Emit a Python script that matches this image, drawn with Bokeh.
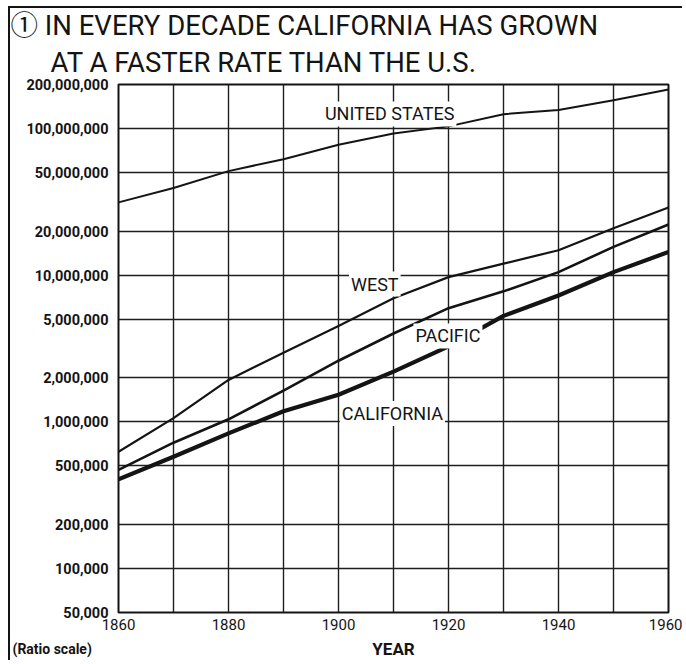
from bokeh.plotting import figure
from bokeh.models import Range1d, FixedTicker, NumeralTickFormatter, Label, Title
from bokeh.embed import file_html
from bokeh.resources import INLINE

# ---- data (population, ratio scale) ----
years = [1860, 1870, 1880, 1890, 1900, 1910, 1920, 1930, 1940, 1950, 1960]
united_states = [31.4e6, 39.4e6, 51.3e6, 61.9e6, 77.6e6, 92.7e6, 103.6e6, 125.5e6, 134.0e6, 156.0e6, 185.0e6]
west = [0.624e6, 1.06e6, 1.93e6, 2.96e6, 4.5e6, 6.97e6, 9.7e6, 12.0e6, 14.8e6, 20.9e6, 29.0e6]
pacific = [0.47e6, 0.72e6, 1.04e6, 1.63e6, 2.61e6, 4.0e6, 5.96e6, 7.76e6, 10.5e6, 15.6e6, 22.2e6]
california = [0.405e6, 0.578e6, 0.833e6, 1.18e6, 1.53e6, 2.2e6, 3.27e6, 5.28e6, 7.27e6, 10.5e6, 14.4e6]

y_ticks = [50_000, 100_000, 200_000, 500_000, 1_000_000, 2_000_000, 5_000_000,
           10_000_000, 20_000_000, 50_000_000, 100_000_000, 200_000_000]
x_label_years = [1860, 1880, 1900, 1920, 1940, 1960]
grid_years = [1860, 1870, 1880, 1890, 1900, 1910, 1920, 1930, 1940, 1950, 1960]

series_names = ["UNITED STATES", "WEST", "PACIFIC", "CALIFORNIA"]
title_lines = ["\u2460  IN EVERY DECADE CALIFORNIA HAS GROWN", "AT A FASTER RATE THAN THE U.S."]

INK = "#141414"
FONT = "Roboto"
TITLE_FONT = "Roboto, 'Noto Sans CJK JP'"

p = figure(width=674, height=654,
           x_range=Range1d(1860, 1960), y_range=Range1d(5e4, 2e8),
           y_axis_type="log", output_backend="svg", toolbar_location=None,
           title=None,
           min_border_left=108, min_border_right=16,
           min_border_top=76, min_border_bottom=50)
p.styles = {"margin-left": "8px", "margin-top": "6px",
            "border-left": "2px solid #141414", "border-top": "2px solid #141414"}
p.background_fill_color = "white"
p.border_fill_color = "white"
p.outline_line_color = INK
p.outline_line_width = 2

p.xaxis.ticker = FixedTicker(ticks=x_label_years)
p.xgrid.ticker = FixedTicker(ticks=grid_years)
p.yaxis.ticker = FixedTicker(ticks=y_ticks)
p.ygrid.ticker = FixedTicker(ticks=y_ticks)
p.yaxis.formatter = NumeralTickFormatter(format="0,0")

for ax in (p.xaxis, p.yaxis):
    ax.axis_line_color = None
    ax.major_tick_line_color = None
    ax.minor_tick_line_color = None
    ax.major_tick_out = 0
    ax.major_tick_in = 0
    ax.major_label_text_color = INK
    ax.major_label_text_font = FONT

p.yaxis.major_label_text_font_size = "14.5px"
p.yaxis.major_label_text_font_style = "bold"
p.yaxis.major_label_standoff = 10
p.xaxis.major_label_text_font_size = "15px"
p.xaxis.major_label_standoff = 6
p.xaxis.axis_label = "YEAR"
p.xaxis.axis_label_text_font = FONT
p.xaxis.axis_label_text_font_size = "17px"
p.xaxis.axis_label_text_font_style = "bold"
p.xaxis.axis_label_text_color = INK
p.xaxis.axis_label_standoff = 6

p.grid.grid_line_color = "#1e1e1e"
p.grid.grid_line_width = 1.4
p.grid.grid_line_alpha = 1.0

p.line(years, united_states, line_color=INK, line_width=2.0, line_join="round")
p.line(years, west, line_color=INK, line_width=2.2, line_join="round")
p.line(years, pacific, line_color=INK, line_width=2.6, line_join="round")
p.line(years, california, line_color=INK, line_width=4.2, line_join="round")

# series labels (data coordinates); white boxes interrupt lines as in the original
label_pos = [(1909.3, 126e6), (1906.6, 8.7e6), (1919.9, 3.85e6), (1909.8, 1.14e6)]
for (lx, ly), name in zip(label_pos, series_names):
    p.add_layout(Label(x=lx, y=ly, text=name, text_font=FONT, text_font_size="18px",
                       text_align="center", text_baseline="middle", text_color=INK,
                       background_fill_color="white", padding=2))

# two-line heading (inner line first)
p.add_layout(Title(text=title_lines[1], align="left", offset=-68, standoff=11,
                   text_font=TITLE_FONT, text_font_size="27.5px", text_font_style="normal",
                   text_color=INK), "above")
p.add_layout(Title(text=title_lines[0], align="left", offset=-108, standoff=-6,
                   text_font=TITLE_FONT, text_font_size="27.5px", text_font_style="normal",
                   text_color=INK), "above")

# note at lower left
p.add_layout(Title(text="(Ratio scale)", align="left", offset=-106, standoff=-41,
                   vertical_align="top",
                   text_font=FONT, text_font_size="14px", text_font_style="bold",
                   text_color=INK), "below")

open("out.html", "w").write(file_html(p, INLINE))
